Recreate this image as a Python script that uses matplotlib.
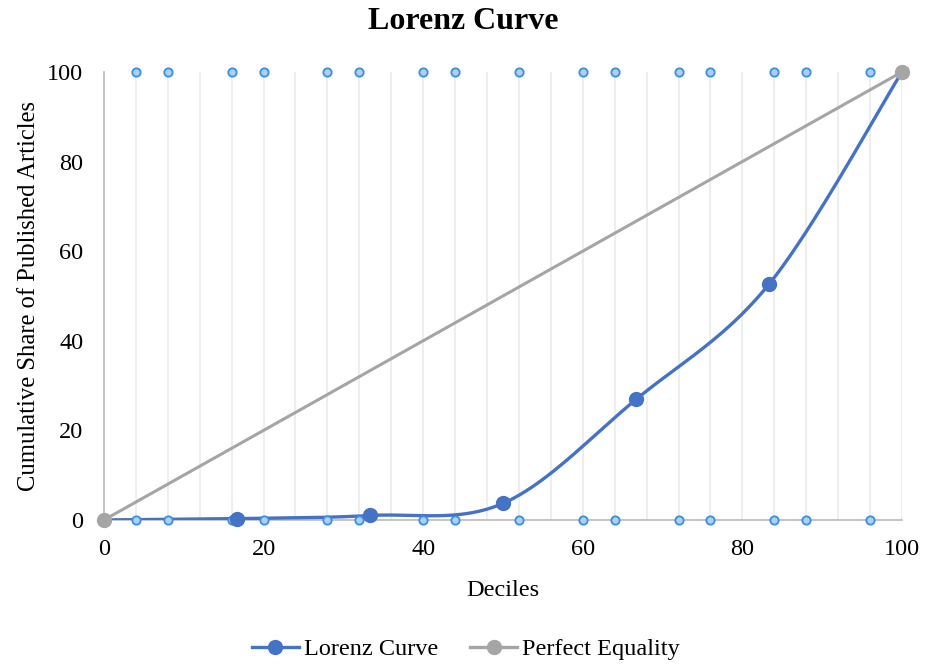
import numpy as np
import matplotlib.pyplot as plt
from matplotlib.lines import Line2D

plt.rcParams['font.family'] = ['Liberation Serif', 'DejaVu Serif']

# data
deciles = [0, 16.67, 33.33, 50, 66.67, 83.33, 100]
lorenz = [0, 0.3, 1.0, 3.7, 26.9, 52.6, 100]
equality_x = [0, 100]
equality_y = [0, 100]
# small light-blue markers along the top and bottom edges
edge_x = [4, 8, 16, 20, 28, 32, 40, 44, 52, 60, 64, 72, 76, 84, 88, 96]
x_ticks = [0, 20, 40, 60, 80, 100]
y_ticks = [0, 20, 40, 60, 80, 100]

blue = '#4472C4'
gray = '#A5A5A5'


def smooth(xs, ys, n=40):
    # Excel-like smoothed line: cubic Bezier segments with Catmull-Rom tangents
    xs = np.asarray(xs, float)
    ys = np.asarray(ys, float)
    px, py = [], []
    for i in range(len(xs) - 1):
        i0, i3 = max(i - 1, 0), min(i + 2, len(xs) - 1)
        p0 = np.array([xs[i], ys[i]])
        p3 = np.array([xs[i + 1], ys[i + 1]])
        c1 = p0 + (np.array([xs[i + 1], ys[i + 1]]) - np.array([xs[i0], ys[i0]])) / 6
        c2 = p3 - (np.array([xs[i3], ys[i3]]) - np.array([xs[i], ys[i]])) / 6
        t = np.linspace(0, 1, n)[:, None]
        pts = (1 - t) ** 3 * p0 + 3 * (1 - t) ** 2 * t * c1 + 3 * (1 - t) * t ** 2 * c2 + t ** 3 * p3
        px.extend(pts[:, 0])
        py.extend(pts[:, 1])
    return px, py


fig = plt.figure(figsize=(9.26, 6.64), dpi=100)
ax = fig.add_axes([0.1123, 0.2169, 0.8617, 0.6747])

# vertical grid every 4 units
for gx in range(4, 101, 4):
    ax.axvline(gx, color='#EBEBEB', lw=1.2, zorder=0)

ax.plot(equality_x, equality_y, color=gray, lw=2.2, zorder=2)

sx, sy = smooth(deciles, lorenz)
ax.plot(sx, sy, color=blue, lw=2.4, zorder=3)

ax.plot(edge_x, [0] * len(edge_x), 'o', ms=6, mfc='#A9D0F5', mec='#3D8EE0', mew=1.3,
        zorder=4, clip_on=False, ls='none')
ax.plot(edge_x, [100] * len(edge_x), 'o', ms=6, mfc='#A9D0F5', mec='#3D8EE0', mew=1.3,
        zorder=4, clip_on=False, ls='none')

ax.plot(deciles[1:-1], lorenz[1:-1], 'o', color=blue, ms=10, zorder=6, clip_on=False)
ax.plot([0], [0], 'o', color=gray, ms=10, zorder=6, clip_on=False)
ax.plot([100], [100], 'o', color=gray, ms=10, zorder=7, clip_on=False)

ax.set_xlim(0, 100)
ax.set_ylim(0, 100)
ax.set_xticks(x_ticks)
ax.set_yticks(y_ticks)
ax.tick_params(length=0, labelsize=17.5)
ax.tick_params(axis='y', pad=15)
ax.tick_params(axis='x', pad=14)
for s in ['top', 'right']:
    ax.spines[s].set_visible(False)
ax.spines['left'].set_color('#BFBFBF')
ax.spines['bottom'].set_color('#BFBFBF')
ax.spines['left'].set_linewidth(1.3)
ax.spines['bottom'].set_linewidth(1.3)

ax.set_xlabel('Deciles', fontsize=17.5, labelpad=14)
ax.set_ylabel('Cumulative Share of Published Articles', fontsize=17.7, labelpad=5)
fig.suptitle('Lorenz Curve', fontsize=23, fontweight='bold', y=0.99)

handles = [Line2D([], [], color=blue, lw=2.4, marker='o', ms=10),
           Line2D([], [], color=gray, lw=2.4, marker='o', ms=10)]
fig.legend(handles, ['Lorenz Curve', 'Perfect Equality'], loc='center',
           bbox_to_anchor=(0.503, 0.022), ncol=2, frameon=False, fontsize=17.5,
           handlelength=1.95, columnspacing=1.3, handletextpad=0.2)

fig.savefig('out.png', dpi=100)
